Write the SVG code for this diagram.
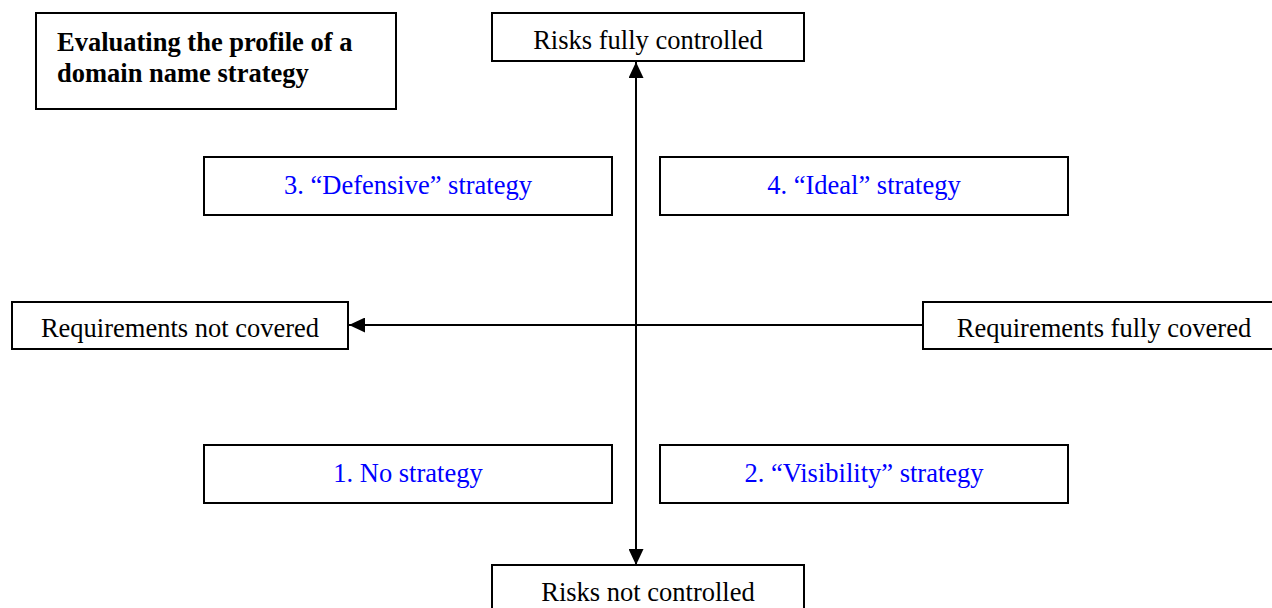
<svg xmlns="http://www.w3.org/2000/svg" width="1272" height="608" viewBox="0 0 1272 608">
<style>
.box{fill:#fff;stroke:#000;stroke-width:2}
.t{font-family:"Liberation Serif","Times New Roman",serif;font-size:26.5px;fill:#000;text-anchor:middle}
.b{color:#0000ff;fill:#0000ff}
.title{font-weight:bold;text-anchor:start}
.line{stroke:#000;stroke-width:2;fill:none}
</style>
<defs>
<marker id="ah" viewBox="0 0 16 15" refX="16" refY="7.5" markerWidth="16" markerHeight="15" markerUnits="userSpaceOnUse" orient="auto">
<path d="M0,0 L16,7.5 L0,15 Z" fill="#000"/>
</marker>
</defs>
<g id="connectors">
<line class="line" x1="636" y1="325" x2="636" y2="62" marker-end="url(#ah)"/>
<line class="line" x1="636" y1="325" x2="636" y2="565" marker-end="url(#ah)"/>
<line class="line" x1="923" y1="325" x2="349" y2="325" marker-end="url(#ah)"/>
</g>
<g id="title">
<rect class="box" x="36" y="13" width="360" height="96"/>
<text class="t title" x="57" y="51">Evaluating the profile of a</text>
<text class="t title" x="57" y="82">domain name strategy</text>
</g>
<g id="risks-controlled">
<rect class="box" x="492" y="13" width="312" height="48"/>
<text class="t" x="648" y="49">Risks fully controlled</text>
</g>
<g id="defensive">
<rect class="box" x="204" y="157" width="408" height="58"/>
<text class="t b" x="408" y="194">3. “Defensive” strategy</text>
</g>
<g id="ideal">
<rect class="box" x="660" y="157" width="408" height="58"/>
<text class="t b" x="864" y="194">4. “Ideal” strategy</text>
</g>
<g id="req-not">
<rect class="box" x="12" y="302" width="336" height="47"/>
<text class="t" x="180" y="337">Requirements not covered</text>
</g>
<g id="req-full">
<rect class="box" x="923" y="302" width="352" height="47"/>
<text class="t" x="1104" y="337">Requirements fully covered</text>
</g>
<g id="none">
<rect class="box" x="204" y="445" width="408" height="58"/>
<text class="t b" x="408" y="482">1. No strategy</text>
</g>
<g id="visibility">
<rect class="box" x="660" y="445" width="408" height="58"/>
<text class="t b" x="864" y="482">2. “Visibility” strategy</text>
</g>
<g id="risks-not">
<rect class="box" x="492" y="565" width="312" height="50"/>
<text class="t" x="648" y="601">Risks not controlled</text>
</g>
</svg>
